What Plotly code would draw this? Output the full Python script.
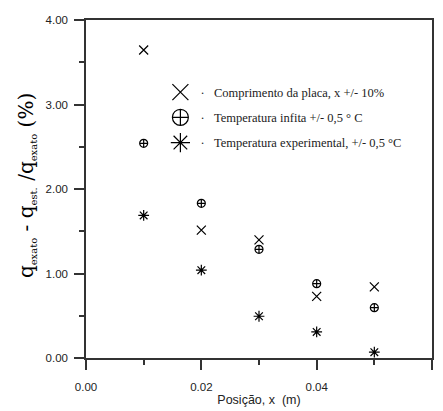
import plotly.graph_objects as go

positions = [0.01, 0.02, 0.03, 0.04, 0.05]
comprimento = [3.645, 1.514, 1.398, 0.730, 0.842]
temp_infinita = [2.54, 1.83, 1.286, 0.88, 0.595]
temp_experimental = [1.687, 1.039, 0.494, 0.309, 0.069]

names = ["Comprimento da placa, x +/- 10%",
         "Temperatura infita +/- 0,5 ° C",
         "Temperatura experimental, +/- 0,5 °C"]
symbols = ["x-thin-open", "circle-cross-open", "asterisk-open"]
series = [comprimento, temp_infinita, temp_experimental]
data_sizes = [9, 8, 9]

fig = go.Figure()
for i, (name, sym, vals, sz) in enumerate(zip(names, symbols, series, data_sizes)):
    fig.add_trace(go.Scatter(
        x=positions, y=vals, mode="markers", showlegend=False,
        marker=dict(symbol=sym, size=sz, color="black",
                    line=dict(color="black", width=1.2)),
    ))
    # legend entry with larger symbol
    fig.add_trace(go.Scatter(
        x=[None], y=[None], mode="markers", name="·&nbsp;&nbsp;&nbsp;" + name,
        legendgroup=f"g{i}",
        marker=dict(symbol=sym, size=16, color="black",
                    line=dict(color="black", width=1.2)),
    ))

axis_common = dict(
    showline=True, linecolor="#333", linewidth=1.5, mirror=True,
    ticks="outside", ticklen=10, tickwidth=1.5, tickcolor="#333",
    showgrid=False, zeroline=False,
    tickfont=dict(family="Liberation Sans, Arial", size=11.5, color="#222"),
)

fig.update_layout(
    width=435, height=403,
    margin=dict(l=78, r=11, t=6, b=52),
    plot_bgcolor="white", paper_bgcolor="white",
    xaxis=dict(range=[0, 0.06], dtick=0.02, tickformat=".2f", ticklabelstandoff=7,
               minor=dict(dtick=0.01, ticks="outside", ticklen=5, tickwidth=1.5, tickcolor="#333"),
               title=dict(text="Posição, x&nbsp;&nbsp;(m)", standoff=4,
                          font=dict(family="Liberation Sans, Arial", size=12.5, color="#222")),
               **axis_common),
    yaxis=dict(range=[0, 4], dtick=1, tickformat=".2f", ticklabelstandoff=4,
               minor=dict(dtick=0.5, ticks="outside", ticklen=5, tickwidth=1.5, tickcolor="#333"),
               **axis_common),
    legend=dict(x=0.215, y=0.83, xanchor="left", yanchor="top",
                bgcolor="rgba(0,0,0,0)", tracegroupgap=6,
                font=dict(family="Liberation Serif, Times New Roman", size=12.5, color="#222")),
    annotations=[dict(
        xref="paper", yref="paper", x=-0.172, y=0.51, xanchor="center", yanchor="middle",
        textangle=-90, showarrow=False,
        text=("q<sub><span style='font-size:10px'>exato</span></sub> - "
              "q<sub><span style='font-size:10px'>est.</span></sub> /"
              "q<sub><span style='font-size:10px'>exato</span></sub> (%)"),
        font=dict(family="DejaVu Serif", size=20, color="black"),
    )],
)

fig.write_html("out.html")
